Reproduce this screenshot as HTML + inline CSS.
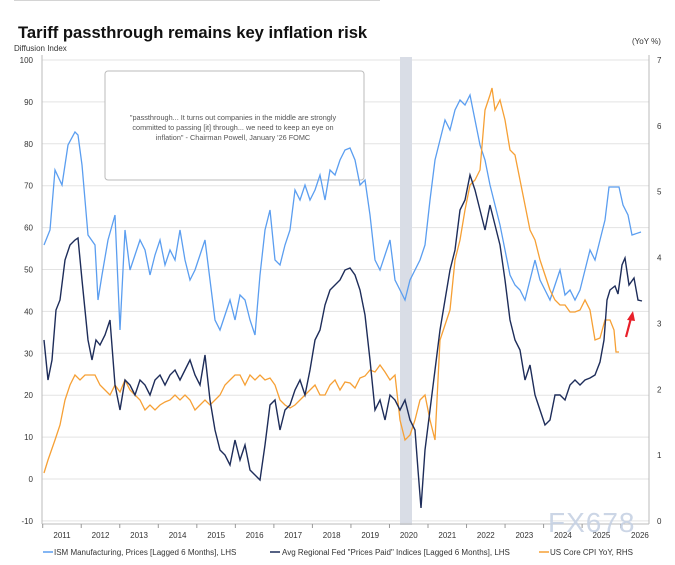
<!DOCTYPE html>
<html><head><meta charset="utf-8"><style>
body{margin:0;background:#fff;width:675px;height:560px;overflow:hidden;font-family:"Liberation Sans",sans-serif}
</style></head><body>
<svg width="675" height="560" xmlns="http://www.w3.org/2000/svg" font-family="Liberation Sans, sans-serif">
<line x1="14" y1="0" x2="380" y2="0" stroke="#aaa" stroke-width="1"/>
<text x="18" y="38" font-size="16.6" font-weight="bold" fill="#111">Tariff passthrough remains key inflation risk</text>
<text x="14" y="51" font-size="8" fill="#333">Diffusion Index</text>
<text x="632" y="44" font-size="8" fill="#333">(YoY %)</text>
<g id="grid" stroke="#e3e3e3" stroke-width="1"></g>
<rect x="400" y="57" width="12" height="468" fill="#d9dde6"/>
<line x1="42" y1="55" x2="42" y2="524" stroke="#bbb"/>
<line x1="649" y1="55" x2="649" y2="524" stroke="#bbb"/>
<line x1="42" y1="524" x2="649" y2="524" stroke="#bbb"/>
<g id="labels" font-size="8" fill="#333"></g>
<rect x="105" y="71" width="259" height="109" rx="3" fill="#fff" stroke="#bbb"/>
<g font-size="7.3" fill="#555" text-anchor="middle">
<text x="233" y="120">"passthrough... It turns out companies in the middle are strongly</text>
<text x="233" y="130">committed to passing [it] through... we need to keep an eye on</text>
<text x="233" y="140">inflation" - Chairman Powell, January '26 FOMC</text>
</g>
<polyline id="ism" fill="none" stroke="#5b9ef0" stroke-width="1.3"/>
<polyline id="cpi" fill="none" stroke="#f6a035" stroke-width="1.3"/>
<polyline id="fed" fill="none" stroke="#1e2d5a" stroke-width="1.4"/>
<line x1="626" y1="337" x2="631" y2="318" stroke="#e8202a" stroke-width="2.2"/>
<polygon points="633,311 627,320 635,321" fill="#e8202a"/>
<text x="548" y="532" font-size="28" fill="#c7d2e4" opacity="0.9" letter-spacing="1">FX678</text>
<g font-size="8" fill="#333">
<line x1="43" y1="552" x2="53" y2="552" stroke="#5b9ef0" stroke-width="1.5"/><text x="54" y="555">ISM Manufacturing, Prices [Lagged 6 Months], LHS</text>
<line x1="270" y1="552" x2="280" y2="552" stroke="#1e2d5a" stroke-width="1.5"/><text x="282" y="555">Avg Regional Fed "Prices Paid" Indices [Lagged 6 Months], LHS</text>
<line x1="539" y1="552" x2="549" y2="552" stroke="#f6a035" stroke-width="1.5"/><text x="550" y="555">US Core CPI YoY, RHS</text>
</g>
</svg>
<script>
var ns="http://www.w3.org/2000/svg";
function el(t,a,p,txt){var e=document.createElementNS(ns,t);for(var k in a)e.setAttribute(k,a[k]);if(txt!==undefined)e.textContent=txt;document.getElementById(p).appendChild(e);}
for(var i=0;i<=11;i++){var y=60+i*41.9;el('line',{x1:42,x2:649,y1:y,y2:y},'grid');el('text',{x:33,y:y+3,'text-anchor':'end'},'labels',String(100-i*10));}
for(var i=0;i<=7;i++){var y=60+i*65.86;el('text',{x:657,y:y+3},'labels',String(7-i));}
for(var yr=2011;yr<=2026;yr++){var x=62+(yr-2011)*38.53;el('text',{x:x,y:538,'text-anchor':'middle'},'labels',String(yr));el('line',{x1:x-19.3,x2:x-19.3,y1:524,y2:528,stroke:'#999'},'labels');}
var ism=[[44,245],[50,230],[55,170],[62,185],[68,145],[75,132],[78,135],[82,165],[88,235],[95,245],[98,300],[102,275],[108,240],[115,215],[120,330],[125,230],[130,270],[135,255],[140,240],[145,250],[150,275],[155,255],[160,240],[165,265],[170,250],[175,260],[180,230],[185,260],[190,280],[195,270],[200,255],[205,240],[210,280],[215,320],[220,330],[225,315],[230,300],[235,320],[240,295],[245,300],[250,320],[255,335],[260,275],[265,230],[270,210],[275,260],[280,265],[285,245],[290,230],[295,190],[300,200],[305,185],[310,200],[315,190],[320,175],[325,200],[330,170],[335,175],[340,160],[345,150],[350,148],[355,160],[360,185],[365,180],[370,215],[375,260],[380,270],[385,255],[390,240],[395,280],[400,290],[405,300],[410,280],[415,270],[420,260],[425,245],[430,200],[435,160],[440,140],[445,120],[450,130],[455,110],[460,100],[465,105],[470,95],[475,120],[480,145],[485,160],[490,185],[495,205],[500,225],[505,250],[510,275],[515,285],[520,290],[525,300],[530,280],[535,260],[540,280],[545,290],[550,300],[555,285],[560,270],[565,295],[570,290],[575,300],[580,290],[585,270],[590,250],[595,260],[600,240],[605,220],[609,187],[619,187],[623,205],[628,215],[632,235],[641,232]];
var fed=[[44,340],[48,380],[52,360],[56,310],[60,300],[65,260],[70,245],[75,240],[78,238],[82,280],[88,340],[92,360],[96,340],[100,345],[105,335],[110,320],[115,385],[120,410],[125,380],[130,385],[135,395],[140,380],[145,385],[150,395],[155,380],[160,375],[165,385],[170,375],[175,370],[180,380],[185,370],[190,360],[195,375],[200,385],[205,355],[210,400],[215,430],[220,450],[225,455],[230,465],[235,440],[240,460],[245,445],[250,470],[255,475],[260,480],[265,445],[270,405],[275,400],[280,430],[285,410],[290,405],[295,390],[300,380],[305,395],[310,370],[315,340],[320,330],[325,305],[330,290],[335,285],[340,280],[345,270],[350,268],[355,275],[360,290],[365,315],[370,360],[375,410],[380,400],[385,420],[390,395],[395,400],[400,410],[405,400],[410,420],[415,430],[418,470],[421,508],[425,450],[430,410],[435,370],[440,330],[445,300],[450,270],[455,250],[460,210],[465,200],[470,175],[475,190],[480,210],[485,230],[490,205],[495,225],[500,245],[505,280],[510,320],[515,340],[520,350],[525,380],[530,365],[535,395],[540,410],[545,425],[550,420],[555,395],[560,395],[565,400],[570,385],[575,380],[580,385],[585,380],[590,378],[595,375],[600,362],[604,340],[607,300],[610,290],[615,286],[618,294],[622,265],[625,258],[629,285],[634,278],[638,300],[642,301]];
var cpi=[[44,473],[48,460],[55,440],[60,425],[65,400],[70,385],[75,375],[80,380],[85,375],[90,375],[95,375],[100,385],[105,390],[110,395],[115,385],[120,392],[125,380],[130,390],[135,395],[140,400],[145,410],[150,405],[155,410],[160,405],[165,402],[170,400],[175,395],[180,400],[185,395],[190,400],[195,410],[200,405],[205,400],[210,405],[215,400],[220,395],[225,385],[230,380],[235,375],[240,375],[245,385],[250,375],[255,380],[260,375],[265,380],[270,378],[275,385],[280,400],[285,405],[290,408],[295,405],[300,400],[305,395],[310,390],[315,385],[320,395],[325,395],[330,385],[335,380],[340,390],[345,382],[350,383],[355,388],[360,378],[365,376],[370,370],[375,372],[380,365],[385,372],[390,380],[395,375],[400,420],[405,440],[410,435],[415,420],[420,400],[425,395],[430,420],[435,440],[440,340],[445,325],[450,310],[455,260],[460,240],[465,210],[470,185],[475,180],[480,170],[485,110],[490,95],[492,88],[495,110],[500,100],[505,120],[510,150],[515,155],[520,180],[525,205],[530,230],[535,240],[540,260],[545,275],[550,290],[555,300],[560,305],[565,305],[570,312],[575,312],[580,310],[585,300],[590,310],[595,340],[600,338],[605,320],[610,320],[614,330],[616,352],[619,352]];
function s(a){return a.map(function(p){return p.join(',')}).join(' ')}
document.getElementById('ism').setAttribute('points',s(ism));
document.getElementById('fed').setAttribute('points',s(fed));
document.getElementById('cpi').setAttribute('points',s(cpi));
</script>
</body></html>
